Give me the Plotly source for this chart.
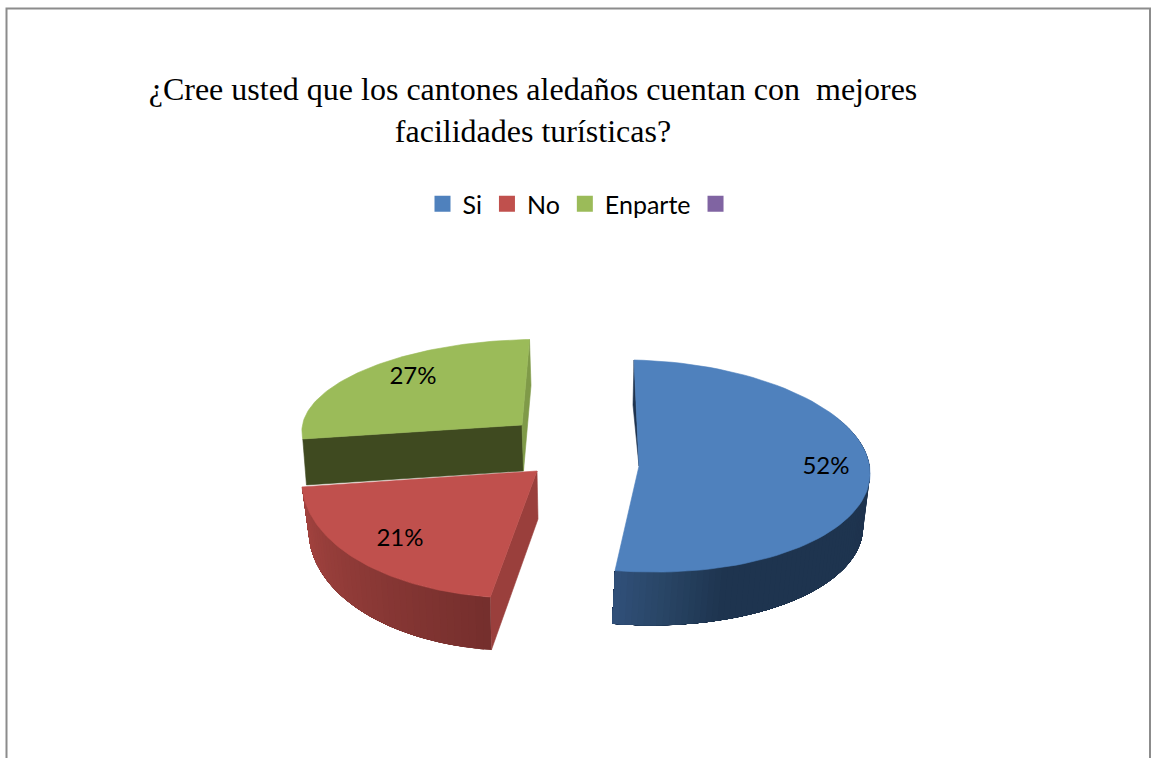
import numpy as np
import plotly.graph_objects as go

# ---- data ----
categories = ["Si", "No", "Enparte", " "]
values = [52, 21, 27, 0]
title_lines = ["¿Cree usted que los cantones aledaños cuentan con\u00a0 mejores",
               "facilidades turísticas?"]
colors = ["#4F81BD", "#C0504D", "#9BBB59", "#8064A2"]

# ---- drawing geometry (pixel space of the axes) ----
W, H = 1152, 758
# For each slice: apex, "right" vector, "up" vector of the top face; and apex + scale of the bottom face
GEOM = {
    "Si": dict(c=(639, 466), R=(231, 5), U=(-5, -106), cb=(635.6, 519.3), sR=.985, sU=1.0),
    "No": dict(c=(537, 471), R=(234.7, 0), U=(17.4, -127), cb=(538, 519), sR=.975, sU=1.04),
    "Enparte": dict(c=(522, 425), R=(220, -3.3), U=(7.5, -85.5), cb=(523.5, 471), sR=.99, sU=1.0),
}


def pt(g, th, bottom=False):
    t = np.radians(th)
    c, sr, su = (g["cb"], g["sR"], g["sU"]) if bottom else (g["c"], 1, 1)
    return (c[0] + sr * g["R"][0] * np.sin(t) + su * g["U"][0] * np.cos(t),
            c[1] + sr * g["R"][1] * np.sin(t) + su * g["U"][1] * np.cos(t))


def arc(g, a, b, bottom=False, n=80):
    return [pt(g, th, bottom) for th in np.linspace(a, b, n)]


def hex2rgb(h):
    return np.array([int(h[i:i + 2], 16) for i in (1, 3, 5)], float)


def ramp(stops, th):
    ths = [s[0] for s in stops]
    rgb = [np.interp(th, ths, [hex2rgb(s[1])[k] for s in stops]) for k in range(3)]
    return "rgb(%d,%d,%d)" % tuple(rgb)


fig = go.Figure()


def poly(points, color, lw=0.6):
    xs = [p[0] for p in points] + [points[0][0]]
    ys = [p[1] for p in points] + [points[0][1]]
    fig.add_trace(go.Scatter(x=xs, y=ys, mode="lines", fill="toself", fillcolor=color,
                             line=dict(color=color, width=lw), showlegend=False, hoverinfo="skip"))


def wall(g, a, b, stops, n=28):
    # painter's order: each strip reaches to the far end, the next one paints over it
    edges = np.linspace(a, b, n + 1)
    for i in range(n):
        p = arc(g, edges[i], b, n=60)
        q = arc(g, b, edges[i], bottom=True, n=60)
        poly(p + q, ramp(stops, (edges[i] + edges[i + 1]) / 2), lw=0)


total = sum(values)
spans = {}
start = 0
for name, v in zip(categories, values):
    spans[name] = (start, start + 360 * v / total)
    start += 360 * v / total

# green slice
g = GEOM["Enparte"]
a, b = spans["Enparte"]
poly([g["c"], pt(g, a), pt(g, a, True), g["cb"]], "#3F4A20")
poly([g["c"], pt(g, b), pt(g, b, True), g["cb"]], "#7F9A48")
poly([g["c"]] + arc(g, a, b), colors[2])

# red slice
g = GEOM["No"]
a, b = spans["No"]
poly([g["c"], pt(g, a), pt(g, a, True), g["cb"]], "#9A3F3C")
wall(g, a, b, [(a, "#752F2D"), (b, "#A64541")], n=40)
poly([g["c"]] + arc(g, a, b), colors[1])

# blue slice
g = GEOM["Si"]
a, b = spans["Si"]
top0 = pt(g, 0)
poly([top0, (top0[0] - 1, top0[1] + 45), g["c"]], "#1E334E")
wall(g, 60, b, [(60, "#1E334E"), (160, "#1F3550"), (175, "#294666"), (b, "#31507A")], n=80)
poly([g["c"]] + arc(g, a, b), colors[0])

# percentage labels
label_pos = {"Si": (826, 468), "No": (400, 540), "Enparte": (413, 378)}
for name, v in zip(categories, values):
    if v:
        fig.add_trace(go.Scatter(x=[label_pos[name][0]], y=[label_pos[name][1]], mode="text",
                                 text=[f"{v}%"], textposition="middle center",
                                 textfont=dict(family="Lato", size=24, color="#000000"),
                                 showlegend=False, hoverinfo="skip"))

# legend entries
for name, col in zip(categories, colors):
    fig.add_trace(go.Scatter(x=[None], y=[None], mode="markers", name=name,
                             marker=dict(symbol="square", size=16, color=col)))

fig.update_layout(
    width=W, height=H, autosize=False,
    margin=dict(l=0, r=0, t=0, b=0),
    paper_bgcolor="white", plot_bgcolor="white",
    xaxis=dict(range=[0, W], visible=False, fixedrange=True),
    yaxis=dict(range=[H, 0], visible=False, fixedrange=True),
    title=dict(text="<br>".join(title_lines), x=533 / W, xanchor="center", xref="paper",
               y=1 - 100 / H, yanchor="top", yref="container",
               font=dict(family="Liberation Serif", size=32, color="#000000")),
    legend=dict(orientation="h", x=585 / W, xanchor="center", y=1 - 204 / H, yanchor="middle",
                font=dict(family="Lato", size=25, color="#000000"), bgcolor="rgba(0,0,0,0)"),
    shapes=[dict(type="path", xref="x", yref="y", path="M 6.5 758 L 6.5 8.5 L 1150 8.5 L 1150 758",
                 line=dict(color="#8C8C8C", width=2))],
)
fig.write_html("out.html", config=dict(displayModeBar=False),
               post_script="document.body.style.margin='0';document.body.style.overflow='hidden';")
